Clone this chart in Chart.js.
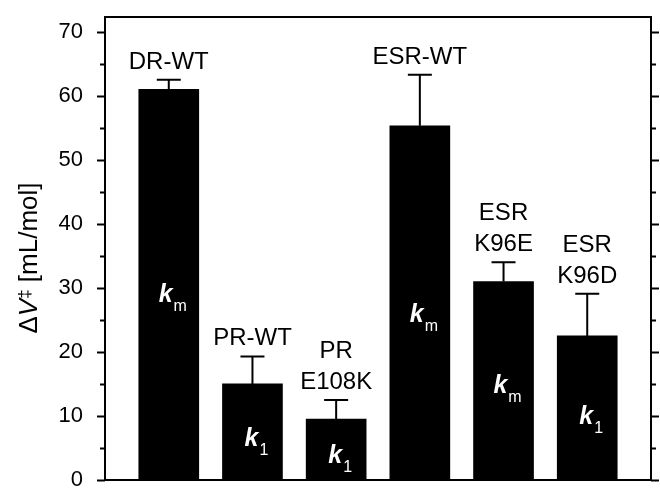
<!DOCTYPE html>
<html>
<head>
<meta charset="utf-8">
<script src="https://cdn.jsdelivr.net/npm/chart.js@4"></script>
<style>
  html, body { margin: 0; padding: 0; background: #fff; }
  #wrap { width: 660px; height: 488px; }
</style>
</head>
<body>
<div id="wrap"><canvas id="chart" width="660" height="488"></canvas></div>
<script>
// bar names (label drawn above each error bar, lines split on \n)
const categories = ['DR-WT', 'PR-WT', 'PR\nE108K', 'ESR-WT', 'ESR\nK96E', 'ESR\nK96D'];
// activation volume, mL/mol
const values = [61, 15, 9.5, 55.3, 31, 22.5];
// upper error bar
const errors = [1.5, 4.3, 3.0, 8.0, 3.0, 6.6];
// rate constant subscript shown inside each bar
const kSubs = ['m', '1', '1', 'm', 'm', '1'];
const kAt = [27.8, 5.3, 2.7, 24.7, 13.6, 8.7]; // baseline of the k label, axis units
const yTicks = [0, 10, 20, 30, 40, 50, 60, 70];

const FONT = '"Liberation Sans", Arial, sans-serif';

// error bars, labels, k-labels, frame, minor ticks
const extras = {
  id: 'extras',
  afterDatasetsDraw(chart) {
    const ctx = chart.ctx;
    const x = chart.scales.x, y = chart.scales.y;
    const area = chart.chartArea;
    ctx.save();
    ctx.strokeStyle = '#000';
    ctx.fillStyle = '#000';
    ctx.lineWidth = 2;

    values.forEach((v, i) => {
      const cx = x.getPixelForValue(i + 1);
      const top = y.getPixelForValue(v);
      const cap = y.getPixelForValue(v + errors[i]);
      ctx.beginPath();
      ctx.moveTo(cx, top);
      ctx.lineTo(cx, cap);
      ctx.moveTo(cx - 12, cap);
      ctx.lineTo(cx + 12, cap);
      ctx.stroke();

      // name above the cap
      const lines = categories[i].split('\n');
      ctx.font = '24px ' + FONT;
      ctx.textAlign = 'center';
      ctx.textBaseline = 'alphabetic';
      ctx.fillStyle = '#000';
      let base = cap - 11;
      for (let j = lines.length - 1; j >= 0; j--) {
        ctx.fillText(lines[j], cx, base);
        base -= 31;
      }

      // k with subscript
      ctx.fillStyle = '#fff';
      ctx.font = 'italic bold 25px ' + FONT;
      const kw = ctx.measureText('k').width;
      ctx.font = '16px ' + FONT;
      const sw = ctx.measureText(kSubs[i]).width;
      const start = cx + 4 - (kw + sw + 1) / 2;
      const by = y.getPixelForValue(kAt[i]);
      ctx.textAlign = 'left';
      ctx.font = 'italic bold 25px ' + FONT;
      ctx.fillText('k', start, by);
      ctx.font = '16px ' + FONT;
      ctx.fillText(kSubs[i], start + kw + 1, by + 9);
    });

    // top and right frame
    ctx.strokeStyle = '#000';
    ctx.lineWidth = 2;
    ctx.beginPath();
    ctx.moveTo(area.left, area.top);
    ctx.lineTo(area.right, area.top);
    ctx.lineTo(area.right, area.bottom);
    ctx.stroke();

    // major and minor ticks on both sides
    ctx.lineWidth = 2;
    for (let v = 0; v <= 70; v += 5) {
      const py = Math.round(y.getPixelForValue(v)) + 0.5;
      const len = v % 10 === 0 ? 8 : 5;
      ctx.beginPath();
      ctx.moveTo(area.left - len, py);
      ctx.lineTo(area.left, py);
      ctx.moveTo(area.right, py);
      ctx.lineTo(area.right + len, py);
      ctx.stroke();
    }

    // y title: ΔV‡ [mL/mol]
    ctx.translate(30, 258);
    ctx.rotate(-Math.PI / 2);
    ctx.fillStyle = '#000';
    ctx.textBaseline = 'middle';
    ctx.textAlign = 'left';
    const parts = [
      ['Δ', '26px ' + FONT, 0],
      ['V', 'italic 26px ' + FONT, 0],
      ['‡', '17px ' + FONT, -5],
      [' [mL/mol]', '26px ' + FONT, 0]
    ];
    let total = 0;
    parts.forEach(p => { ctx.font = p[1]; total += ctx.measureText(p[0]).width; });
    let px = -total / 2;
    parts.forEach(p => {
      ctx.font = p[1];
      ctx.fillText(p[0], px, p[2]);
      px += ctx.measureText(p[0]).width;
    });
    ctx.restore();
  }
};

function noPad(s) {
  s.paddingTop = 0;
  s.paddingBottom = 0;
  s.paddingLeft = 0;
  s.paddingRight = 0;
}

new Chart(document.getElementById('chart'), {
  type: 'bar',
  data: {
    datasets: [{
      data: values.map((v, i) => ({ x: i + 1, y: v })),
      backgroundColor: '#000',
      borderWidth: 0,
      barThickness: 60
    }]
  },
  options: {
    responsive: false,
    animation: false,
    layout: { padding: { top: 17, right: 9, bottom: 8, left: 0 } },
    plugins: { legend: { display: false }, tooltip: { enabled: false } },
    scales: {
      x: {
        type: 'linear',
        offset: false,
        min: 0.238,
        max: 6.762,
        grid: { display: false, offset: false },
        border: { display: true, color: '#000', width: 2 },
        ticks: { display: false },
        afterFit(s) { s.height = 0; noPad(s); }
      },
      y: {
        min: 0,
        max: 72.3,
        grid: { display: false },
        border: { display: true, color: '#000', width: 2 },
        afterBuildTicks(s) { s.ticks = yTicks.map(v => ({ value: v })); },
        afterFit(s) { s.width = 105; noPad(s); },
        ticks: {
          color: '#000',
          padding: 14,
          font: { family: FONT, size: 22 }
        }
      }
    }
  },
  plugins: [extras]
});
</script>
</body>
</html>
